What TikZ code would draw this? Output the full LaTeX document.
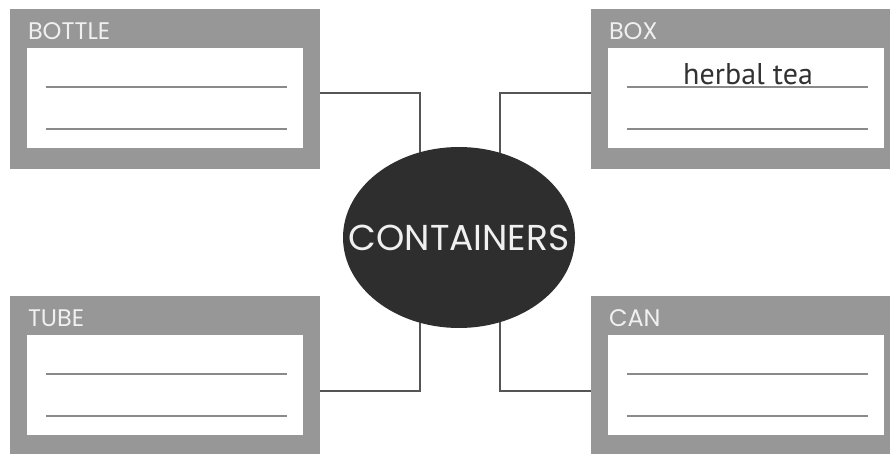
\documentclass[tikz,border=0pt]{standalone}
\usepackage{fontspec}
\setmainfont{Poppins}
\newfontfamily\handfont{PT Sans}
\usetikzlibrary{positioning,backgrounds,shapes.geometric}

\definecolor{cardgray}{RGB}{151,151,151}
\definecolor{rulegray}{RGB}{138,138,138}
\definecolor{linkgray}{RGB}{85,85,85}
\definecolor{hubfill}{RGB}{46,46,46}
\definecolor{inkgray}{RGB}{50,50,50}

\tikzset{
  card/.style={fill=cardgray,minimum width=310pt,minimum height=160pt,inner sep=0pt},
  slot/.style={fill=white,minimum width=276pt,minimum height=100pt,inner sep=0pt},
  tag/.style={text=white!94!black,font=\fontsize{24}{24}\selectfont,anchor=base west,inner sep=0pt},
  rule/.style={draw=rulegray,line width=2pt},
  link/.style={draw=linkgray,line width=1.5pt},
  hub/.style={ellipse,fill=hubfill,minimum width=232pt,minimum height=181pt,inner sep=0pt},
  hubtext/.style={text=white!94!black,font=\fontsize{36}{36}\selectfont,inner sep=0pt},
  note/.style={text=inkgray,font=\handfont\fontsize{30}{30}\selectfont,anchor=base west,inner sep=0pt},
}

\begin{document}
\begin{tikzpicture}[x=1pt,y=-1pt]
\useasboundingbox (0,0) rectangle (890,454);

% the four labels
\foreach \name/\cx/\cy/\tagtext in {bottle/165/89/BOTTLE,box/746/89/BOX,tube/165/376/TUBE,can/746/376/CAN}{
  \node[card] (\name) at (\cx,\cy) {};
  \node[slot,below=39pt of \name.north] (\name-in) {};
  \node[tag] (\name-tag) at ([xshift=18pt,yshift=-31pt]\name.north west) {\tagtext};
  \draw[rule] ([xshift=19pt,yshift=-39pt]\name-in.north west) -- ([xshift=-16pt,yshift=-39pt]\name-in.north east);
  \draw[rule] ([xshift=19pt,yshift=-81pt]\name-in.north west) -- ([xshift=-16pt,yshift=-81pt]\name-in.north east);
}

\node[note] (tea) at (683,85) {herbal tea};

\node[hub] (hub) at (459,237.5) {};
\node[hubtext] (hub-text) at (hub.center) {CONTAINERS};

\begin{scope}[on background layer]
\draw[link] ([yshift=-4pt]bottle.east) -| ([xshift=-39pt]hub.center);
\draw[link] ([yshift=-4pt]box.west) -| ([xshift=41pt]hub.center);
\draw[link] ([yshift=-15pt]tube.east) -| ([xshift=-39pt]hub.center);
\draw[link] ([yshift=-15pt]can.west) -| ([xshift=41pt]hub.center);
\end{scope}
\end{tikzpicture}
\end{document}
